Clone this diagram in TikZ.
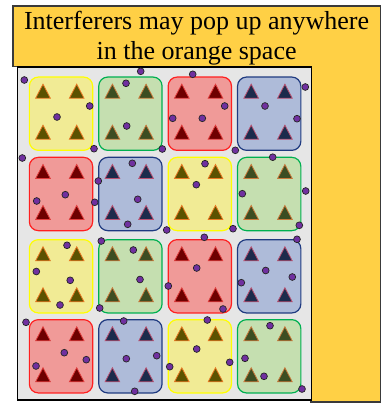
\documentclass[tikz,border=0pt]{standalone}
\usepackage{fontspec}
\setmainfont{Liberation Serif}
\newfontfamily\titlefont{Liberation Serif}
\definecolor{orangefill}{HTML}{FFD045}
\definecolor{orangeline}{HTML}{3A3A3A}
\definecolor{grayfill}{HTML}{E6E6E6}
\definecolor{fillY}{HTML}{F1EB95}
\definecolor{drawY}{HTML}{FFFF00}
\definecolor{tfY}{HTML}{5B5200}
\definecolor{tdY}{HTML}{E87722}
\definecolor{fillG}{HTML}{C5DFB0}
\definecolor{drawG}{HTML}{00B050}
\definecolor{tfG}{HTML}{3C4D22}
\definecolor{tdG}{HTML}{C8783A}
\definecolor{fillR}{HTML}{F09A98}
\definecolor{drawR}{HTML}{FF2020}
\definecolor{tfR}{HTML}{6E0000}
\definecolor{tdR}{HTML}{E03C3C}
\definecolor{fillB}{HTML}{AEBBD9}
\definecolor{drawB}{HTML}{1F3A80}
\definecolor{tfB}{HTML}{1C2B4C}
\definecolor{tdB}{HTML}{B85070}
\definecolor{dotfill}{HTML}{7030A0}
\tikzset{
  orangebox/.style={fill=orangefill, draw=orangeline, line width=1.5pt, line join=miter},
  spacebox/.style={draw=black, fill=grayfill, line width=1.3pt, inner sep=0pt, anchor=north west},
  title/.style={font=\titlefont\fontsize{26}{30}\selectfont, align=center, inner sep=0pt, text=black},
  tile/.style={minimum width=63.3pt, minimum height=73.3pt, inner sep=0pt, rounded corners=9pt, line width=1.2pt},
  tri/.style={line width=0.8pt, line join=miter},
  dot/.style={circle, inner sep=0pt, minimum size=6.8pt, fill=dotfill, draw=black!85, line width=0.7pt}
}
\begin{document}
\begin{tikzpicture}[x=1pt,y=-1pt]
\useasboundingbox (0,0) rectangle (390,403);
\draw[orangebox] (13,6) -- (380.7,6) -- (380.7,402) -- (310.7,402) -- (310.7,66.5) -- (13,66.5) -- cycle;
\node[title, anchor=base] (title) at (196.6,59.3) {Interferers may pop up anywhere\\in the orange space};
\node[spacebox, minimum width=294.2pt, minimum height=332.8pt] (space) at (16.5,66.5) {};
\foreach \row/\yy/\list in {0/113.7/{Y,G,R,B},1/194/{R,B,Y,G},2/276.3/{Y,G,R,B},3/356.3/{R,B,Y,G}} {
  \foreach \k [count=\col from 0] in \list {
    \node[tile, fill=fill\k, draw=draw\k] (t\row\col) at ({61+69.4*\col},\yy) {};
    \foreach \dx in {-18,15.7} {
      \foreach \dy in {-22.5,18.5} {
        \path[tri, fill=tf\k, draw=td\k] ({61+69.4*\col+\dx},{\yy+\dy}) ++(-7.3,7) -- ++(14.6,0) -- ++(-7.3,-14) -- cycle;
      }
    }
  }
}
\foreach \x/\y [count=\i] in {24.3/80, 140.7/71.3, 126/83.3, 192.7/74.3, 305.3/87, 89.7/106, 57/117, 126.7/126, 224.7/106, 172.7/118.3, 202.3/118.3, 265/106, 297/118.7, 94/148.7, 162.3/149, 235.3/150.3, 22.3/158, 272.7/157.2, 132.3/163.3, 205/163.7, 196.3/184.7, 98.3/181, 65.3/194.7, 36.7/201, 94.7/202.3, 137.7/199.3, 242.3/193.7, 305.7/191, 127.7/224.3, 166.7/230, 233/228.7, 299.3/225.3, 204.3/237.3, 297/239.3, 101.3/241, 67/245.3, 133.3/250, 36.3/271.5, 196.7/268, 265.7/270.5, 70.2/280.3, 140/279.5, 292.3/277, 241.3/282.7, 168.3/286, 60/305, 99.7/308, 223/309, 26/322.3, 123.7/321, 207.3/320, 270/325.7, 64.3/352.7, 196.7/349, 86.3/359.7, 126.3/358.7, 156.7/355.7, 245/358.3, 36/366, 169.7/366.7, 229.7/362.3, 264/376.3, 134.7/391.3, 302/389} {
  \node[dot] (d\i) at (\x,\y) {};
}
\end{tikzpicture}
\end{document}
